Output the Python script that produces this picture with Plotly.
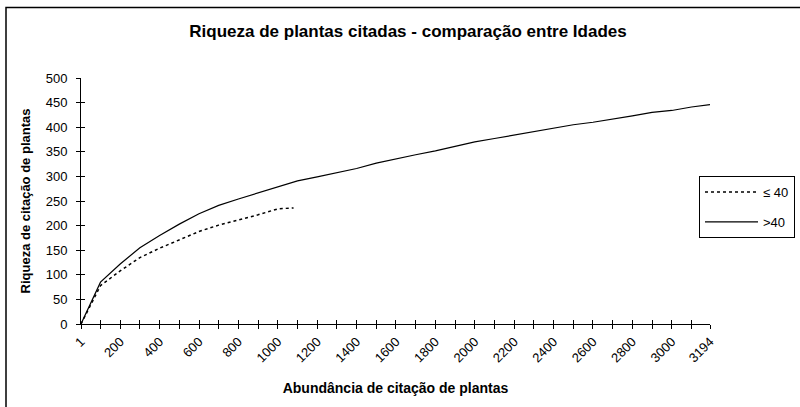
import plotly.graph_objects as go

# Data
abund_le40 = [1, 100, 200, 300, 400, 500, 600, 700, 800, 900, 1000, 1080]
rich_le40 = [0, 78, 108, 135, 154, 171, 188, 201, 211, 222, 234, 236]

abund_gt40 = [1, 100, 200, 300, 400, 500, 600, 700, 800, 900, 1000, 1100, 1200,
              1300, 1400, 1500, 1600, 1700, 1800, 1900, 2000, 2100, 2200, 2300,
              2400, 2500, 2600, 2700, 2800, 2900, 3000, 3100, 3194]
rich_gt40 = [0, 85, 122, 155, 180, 203, 224, 241, 254, 266, 279, 291, 299,
             307, 316, 327, 336, 344, 352, 361, 370, 377, 384, 391,
             398, 405, 410, 416, 423, 430, 434, 441, 446]

x_tickvals = [1, 200, 400, 600, 800, 1000, 1200, 1400, 1600, 1800, 2000, 2200,
              2400, 2600, 2800, 3000, 3194]
x_ticktext = [str(v) for v in x_tickvals]
y_tickvals = [0, 50, 100, 150, 200, 250, 300, 350, 400, 450, 500]

FONT = "Arial, Liberation Sans, sans-serif"

L, R, T, B = 81, 90, 78, 83
PW, PH = 800 - L - R, 407 - T - B

fig = go.Figure()
fig.add_trace(go.Scatter(x=abund_le40, y=rich_le40, mode="lines", name="≤ 40",
                         line=dict(color="black", width=1.5, dash="dot"),
                         legendgroup="a"))
fig.add_trace(go.Scatter(x=abund_gt40, y=rich_gt40, mode="lines", name=">40",
                         line=dict(color="black", width=1.2),
                         legendgroup="b"))
# invisible copy on the overlay axes so their inward tick marks get drawn (crossing ticks)
fig.add_trace(go.Scatter(x=abund_gt40, y=rich_gt40, mode="lines", xaxis="x2", yaxis="y2",
                         line=dict(color="rgba(0,0,0,0)", width=0), showlegend=False,
                         hoverinfo="skip"))

fig.update_layout(
    width=800, height=407,
    margin=dict(l=L, r=R, t=T, b=B, autoexpand=False),
    paper_bgcolor="white", plot_bgcolor="white",
    font=dict(family=FONT, color="black", size=13),
    title=dict(text="<b>Riqueza de plantas citadas - comparação entre Idades</b>",
               x=408 / 800, xanchor="center", y=1 - 31 / 407, yanchor="middle",
               font=dict(size=17, family=FONT, color="black")),
    showlegend=True,
    legend=dict(x=(699 - L) / PW, xanchor="left", y=(324 - 176) / PH, yanchor="top",
                bordercolor="black", borderwidth=1, bgcolor="white",
                font=dict(size=13, family=FONT), tracegroupgap=10,
                itemwidth=53),
    xaxis=dict(range=[1, 3194], tickmode="array", tickvals=x_tickvals, ticktext=x_ticktext,
               tickangle=-45, ticks="outside", ticklen=4, tickcolor="black",
               showline=True, linecolor="black", linewidth=1, showgrid=False, zeroline=False,
               tickfont=dict(size=13, family=FONT), automargin=False,
               minor=dict(tick0=100, dtick=200, ticks="outside", ticklen=4, tickcolor="black"),
               title=dict(text="<b>Abundância de citação de plantas</b>",
                          font=dict(size=14, family=FONT), standoff=18)),
    yaxis=dict(range=[0, 500], tickmode="array", tickvals=y_tickvals,
               ticks="outside", ticklen=4, tickcolor="black", ticklabelstandoff=6,
               showline=True, linecolor="black", linewidth=1, showgrid=False, zeroline=False,
               tickfont=dict(size=13, family=FONT), automargin=False,
               title=dict(text="<b>Riqueza de citação de plantas</b>",
                          font=dict(size=13, family=FONT), standoff=12)),
    xaxis2=dict(overlaying="x", range=[1, 3194], tickmode="array",
                tickvals=x_tickvals + list(range(100, 3200, 200)),
                ticks="inside", ticklen=4, tickcolor="black", showticklabels=False,
                showgrid=False, zeroline=False, showline=False, anchor="y2", side="bottom",
                automargin=False),
    yaxis2=dict(overlaying="y", range=[0, 500], tickmode="array", tickvals=y_tickvals,
                ticks="inside", ticklen=4, tickcolor="black", showticklabels=False,
                showgrid=False, zeroline=False, showline=False, side="left", anchor="x2",
                automargin=False),
)

# chart-area frame (only left and top edges visible in the crop)
fig.add_shape(type="rect", xref="paper", yref="paper",
              x0=(6 - L) / PW, x1=(830 - L) / PW,
              y0=(324 - 430) / PH, y1=(324 - 7.5) / PH,
              line=dict(color="black", width=1.5), fillcolor="rgba(0,0,0,0)", layer="below")

fig.write_html("out.html", config={"displayModeBar": False},
               post_script="document.body.style.margin='0';")
